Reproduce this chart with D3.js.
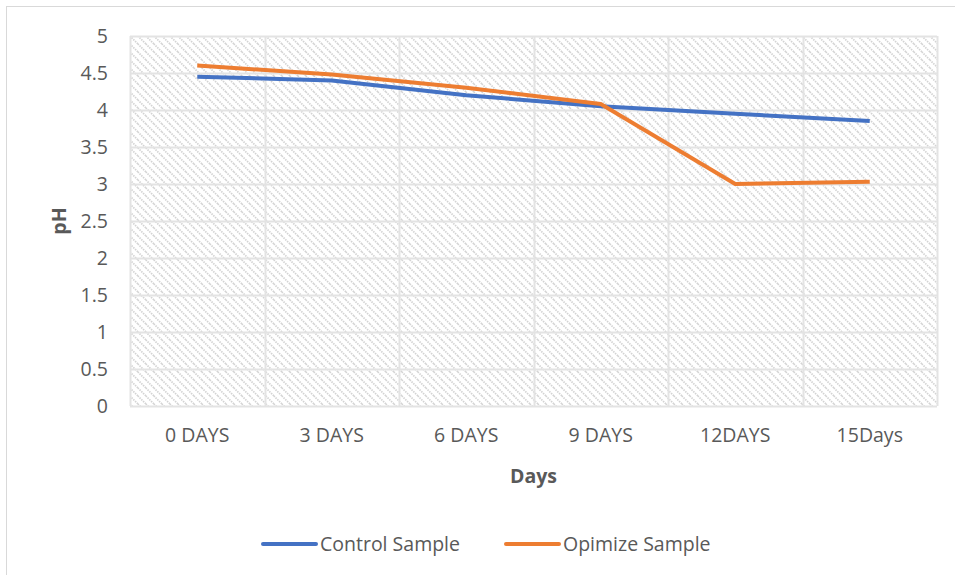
<!DOCTYPE html>
<html>
<head>
<meta charset="utf-8">
<script src="https://cdn.jsdelivr.net/npm/d3@7"></script>
<style>
  body { margin: 0; background: #fff; }
  text { font-family: "Open Sans", "Liberation Sans", sans-serif; fill: #595959; }
</style>
</head>
<body>
<div id="chart"></div>
<script>
// chart data
var days = ["0 DAYS", "3 DAYS", "6 DAYS", "9 DAYS", "12DAYS", "15Days"];
var controlSample = [4.45, 4.4, 4.2, 4.05, 3.95, 3.85];
var optimizeSample = [4.6, 4.48, 4.3, 4.08, 3.0, 3.03];
var yTicks = [0, 0.5, 1, 1.5, 2, 2.5, 3, 3.5, 4, 4.5, 5];
var seriesNames = ["Control Sample", "Opimize Sample"];
var seriesColors = ["#4472C4", "#ED7D31"];

var W = 955, H = 575;
var margin = { top: 36, right: 18, bottom: 169, left: 130 };
var width = W - margin.left - margin.right;
var height = H - margin.top - margin.bottom;
var fs = "19.5px";

var svg = d3.select("#chart").append("svg")
	.attr("width", W)
	.attr("height", H);

// outer chart border (right/bottom run off the picture)
svg.append("rect")
	.attr("x", 6.5).attr("y", 6.5)
	.attr("width", W + 10).attr("height", H + 10)
	.attr("fill", "none")
	.attr("stroke", "#d9d9d9");

// hatch fill
var defs = svg.append("defs");
var pat = defs.append("pattern")
	.attr("id", "hatch")
	.attr("patternUnits", "userSpaceOnUse")
	.attr("width", 8).attr("height", 8);
pat.append("rect").attr("width", 8).attr("height", 8).attr("fill", "#fff");
pat.append("path")
	.attr("d", "M-2,-2 L10,10 M-2,6 L2,10 M6,-2 L10,2")
	.attr("stroke", "#d3d3d3")
	.attr("stroke-width", 1.7)
	.attr("stroke-dasharray", "1.5,1");

var g = svg.append("g")
	.attr("transform", "translate(" + margin.left + "," + margin.top + ")");

var x = d3.scaleBand().domain(days).range([0, width]);
var y = d3.scaleLinear().domain([0, 5]).range([height, 0]);

g.append("rect")
	.attr("width", width).attr("height", height)
	.attr("fill", "url(#hatch)");

// gridlines
g.selectAll(".hgrid").data(yTicks).enter().append("line")
	.attr("class", "hgrid")
	.attr("x1", 0).attr("x2", width)
	.attr("y1", (d) => Math.round(y(d)) + 0.5)
	.attr("y2", (d) => Math.round(y(d)) + 0.5)
	.attr("stroke", "#e3e3e3")
	.attr("stroke-width", 2);

var bounds = days.map((d) => x(d)).concat([width]);
g.selectAll(".vgrid").data(bounds).enter().append("line")
	.attr("class", "vgrid")
	.attr("y1", 0).attr("y2", height)
	.attr("x1", (d) => Math.round(d) + 0.5)
	.attr("x2", (d) => Math.round(d) + 0.5)
	.attr("stroke", "#e3e3e3")
	.attr("stroke-width", 2);

// axes
var yAxis = g.append("g")
	.call(d3.axisLeft(y).tickValues(yTicks).tickSize(0).tickPadding(22).tickFormat(d3.format("")));
yAxis.select(".domain").remove();
yAxis.selectAll("text").style("font-size", fs).attr("fill", "#595959");

var xAxis = g.append("g")
	.attr("transform", "translate(0," + height + ")")
	.call(d3.axisBottom(x).tickSize(0).tickPadding(22));
xAxis.select(".domain").remove();
xAxis.selectAll("text").style("font-size", fs).attr("fill", "#595959");

// lines
var series = [controlSample, optimizeSample];
var line = d3.line()
	.x((d, i) => x(days[i]) + x.bandwidth() / 2)
	.y((d) => y(d));

series.forEach((s, k) => {
	g.append("path")
		.datum(s)
		.attr("d", line)
		.attr("fill", "none")
		.attr("stroke", seriesColors[k])
		.attr("stroke-width", 4)
		.attr("stroke-linejoin", "round");
});

// axis titles
svg.append("text")
	.attr("x", margin.left + width / 2)
	.attr("y", 483)
	.attr("text-anchor", "middle")
	.style("font-size", fs)
	.style("font-weight", "bold")
	.text("Days");

svg.append("text")
	.attr("transform", "translate(66," + (margin.top + height / 2) + ") rotate(-90)")
	.attr("text-anchor", "middle")
	.style("font-size", fs)
	.style("font-weight", "bold")
	.text("pH");

// legend
var legendX = [263, 506];
seriesNames.forEach((name, k) => {
	var lg = svg.append("g").attr("transform", "translate(" + legendX[k] + ",544)");
	lg.append("line")
		.attr("x1", 0).attr("x2", 53)
		.attr("stroke", seriesColors[k])
		.attr("stroke-width", 4)
		.attr("stroke-linecap", "round");
	lg.append("text")
		.attr("x", 57)
		.attr("dy", "0.35em")
		.style("font-size", fs)
		.text(name);
});
</script>
</body>
</html>
